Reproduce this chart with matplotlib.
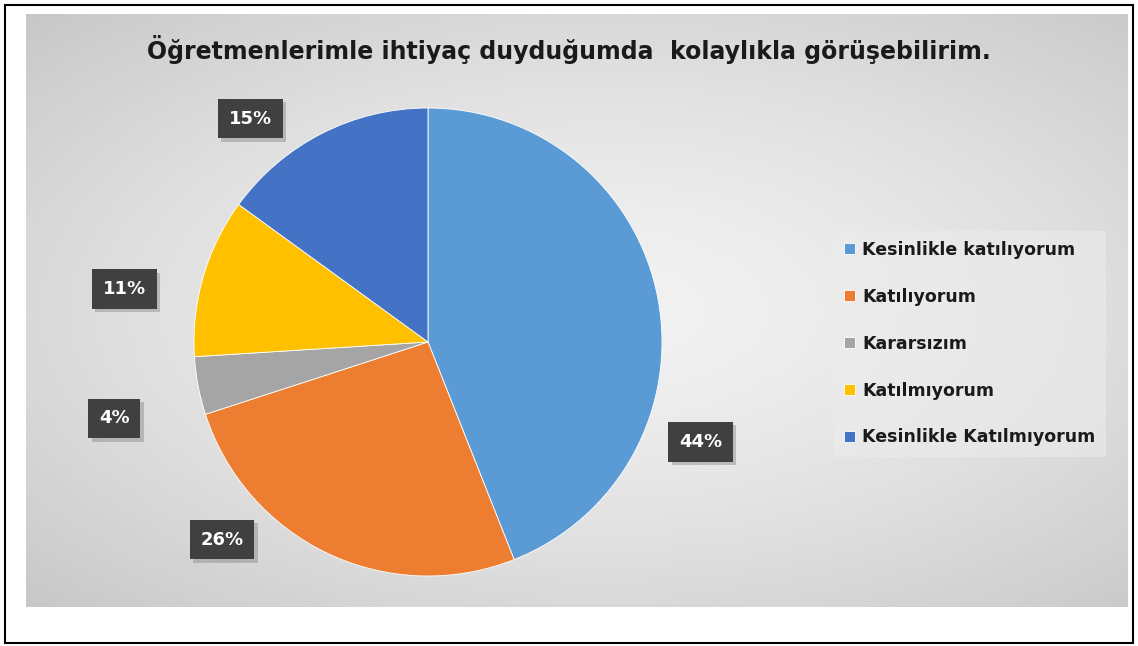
import numpy as np
import matplotlib.pyplot as plt
import matplotlib.patheffects as pe
from matplotlib.patches import Rectangle

labels = ['Kesinlikle katılıyorum', 'Katılıyorum', 'Kararsızım',
          'Katılmıyorum', 'Kesinlikle Katılmıyorum']
values = [44, 26, 4, 11, 15]
colors = ['#5B9BD5', '#ED7D31', '#A5A5A5', '#FFC000', '#4472C4']
title = 'Öğretmenlerimle ihtiyaç duyduğumda  kolaylıkla görüşebilirim.'

W, H = 1138, 646
fig = plt.figure(figsize=(W / 100, H / 100), dpi=100)
fig.patch.set_facecolor('white')

# outer frame
fig.patches.append(Rectangle((5 / W, 3 / H), 1128 / W, 638 / H, transform=fig.transFigure,
                             fill=False, edgecolor='black', linewidth=1.5))

# gray gradient background of the chart area
bg = fig.add_axes([26 / W, 1 - 607 / H, 1102 / W, 593 / H])
gx, gy = np.meshgrid(np.linspace(-1, 1, 300), np.linspace(-1, 1, 200))
d = np.sqrt(((gx - 0.05) * 0.85) ** 2 + (gy * 0.9) ** 2)
shade = 0.945 - 0.115 * np.clip(d, 0, 1.3) ** 1.5
bg.imshow(shade, cmap='gray', vmin=0, vmax=1, aspect='auto', extent=[0, 1, 0, 1])
bg.axis('off')

fig.text(569 / W, 1 - 50 / H, title, ha='center', va='center', fontsize=17,
         fontweight='bold', color='#1a1a1a')

cx, cy, r = 428, 342, 234
ax = fig.add_axes([(cx - r) / W, 1 - (cy + r) / H, 2 * r / W, 2 * r / H])
wedges, _ = ax.pie(values, colors=colors, startangle=90, counterclock=False,
                   radius=1, wedgeprops=dict(edgecolor='white', linewidth=0.6))
ax.set_xlim(-1, 1)
ax.set_ylim(-1, 1)
ax.set_aspect('equal')
ax.axis('off')

# label placement: angle shift (deg) and distance from centre (radius units)
shift = [-30.9, -21, 2.9, 6.3, 11.5]
dist = [1.24, 1.22, 1.38, 1.317, 1.22]
for w, v, s, dd in zip(wedges, values, shift, dist):
    ang = np.deg2rad((w.theta1 + w.theta2) / 2 + s)
    t = ax.text(dd * np.cos(ang), dd * np.sin(ang), f'{v}%', ha='center', va='center',
                fontsize=13, fontweight='bold', color='white', clip_on=False,
                bbox=dict(boxstyle='square,pad=0.6', facecolor='#404040', edgecolor='none'))
    t.get_bbox_patch().set_path_effects([
        pe.SimplePatchShadow(offset=(2.5, -2.5), shadow_rgbFace='#888888', alpha=0.45),
        pe.Normal()])

leg = fig.legend(wedges, labels, loc='upper left', bbox_to_anchor=(825 / W, 1 - 222 / H),
                 frameon=True, prop=dict(size=12.5, weight='bold'), labelspacing=1.66,
                 handlelength=0.6, handleheight=0.6, handletextpad=0.45, borderpad=0.6)
leg.get_frame().set_facecolor('#ececec')
leg.get_frame().set_edgecolor('none')
leg.get_frame().set_alpha(0.6)
for t in leg.get_texts():
    t.set_color('#1a1a1a')

fig.savefig('out.png', dpi=100)
